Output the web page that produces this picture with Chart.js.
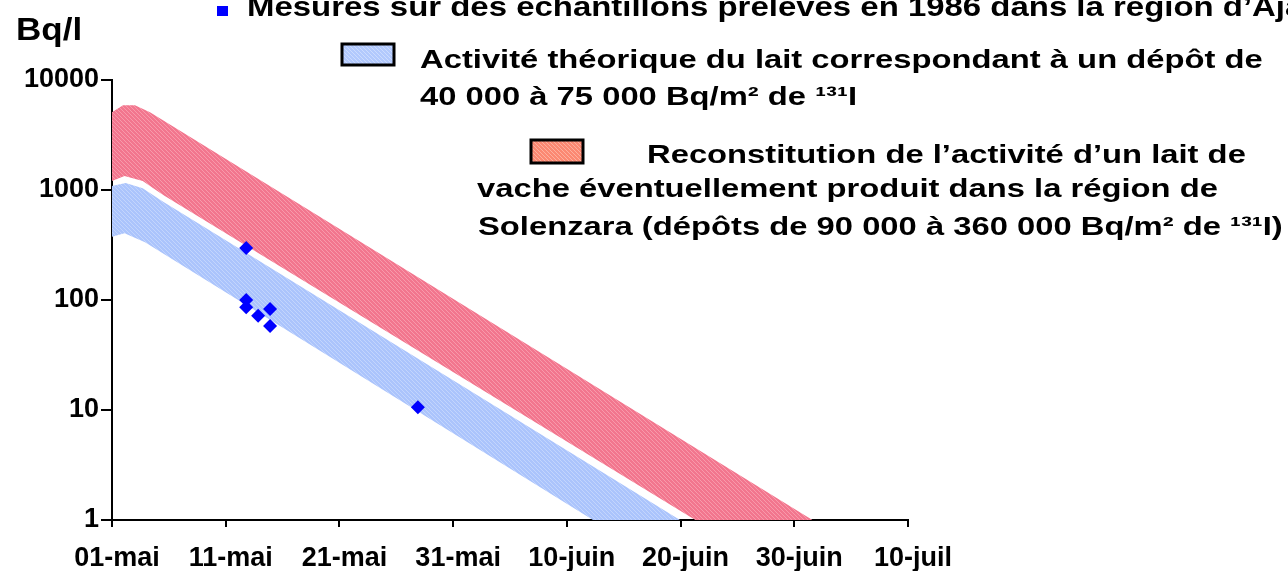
<!DOCTYPE html>
<html><head><meta charset="utf-8">
<script src="https://cdn.jsdelivr.net/npm/chart.js@4.4.1/dist/chart.umd.min.js"></script>
<style>html,body{margin:0;padding:0;background:#fff}#wrap{width:1288px;height:571px;position:relative}</style>
</head><body><div id="wrap"><canvas id="c" width="1288" height="571"></canvas></div>
<script>
// ---- data (days counted from 01-mai 1986) ----
const xTickLabels = ['01-mai','11-mai','21-mai','31-mai','10-juin','20-juin','30-juin','10-juil'];
const xTickDays = [0,10,20,30,40,50,60,70];
const yTickValues = [1,10,100,1000,10000];

const redUpperDays = [0, 0.97, 2.02, 3.34, 61.6];
const redUpperValues = [5100, 5900, 5900, 5100, 1];
const redLowerDays = [0, 1.1, 2.7, 4.5, 51.3, 61.6];
const redLowerValues = [1210, 1340, 1210, 900, 1, 1];

const blueUpperDays = [0, 1.2, 2.7, 4.5, 49.95];
const blueUpperValues = [1090, 1160, 1040, 780, 1];
const blueLowerDays = [0, 1.1, 2.9, 42.3, 49.95];
const blueLowerValues = [375, 405, 335, 1, 1];

const sampleDays = [11.8, 11.8, 11.8, 12.85, 13.9, 13.9, 26.9];
const sampleValues = [297, 100, 86, 72, 83, 58, 10.6];

const topLegendText = 'Mesures sur des échantillons prélevés en 1986 dans la région d’Ajaccio';
const blueLegendLines = ['Activité théorique du lait correspondant à un dépôt de', '40 000 à 75 000 Bq/m² de ¹³¹I'];
const redLegendLines = ['Reconstitution de l’activité d’un lait de', 'vache éventuellement produit dans la région de', 'Solenzara (dépôts de 90 000 à 360 000 Bq/m² de ¹³¹I)'];
const yUnit = 'Bq/l';

// ---- helpers ----
const pts = (xs, ys) => xs.map((x, i) => ({x, y: ys[i]}));
function hatch(base, stripe) {
  const c = document.createElement('canvas'); c.width = 4; c.height = 4;
  const g = c.getContext('2d');
  g.fillStyle = base; g.fillRect(0,0,4,4);
  g.fillStyle = stripe;
  for (let i = 0; i < 4; i++) g.fillRect(i, i, 1, 1);
  return document.getElementById('c').getContext('2d').createPattern(c, 'repeat');
}
const bluePat = hatch('#abc4fc', '#c3d5fd');
const redPat = hatch('#f2768e', '#f89aab');
const blueBoxPat = hatch('#b2c9fd', '#cddcfe');
const salmonPat = hatch('#fb8872', '#fdb09f');
const FONT = '"Liberation Sans", Arial, sans-serif';

function sText(ctx, text, x, y, size, sx) {
  ctx.save();
  ctx.font = 'bold ' + size + 'px ' + FONT;
  ctx.fillStyle = '#000';
  ctx.textBaseline = 'alphabetic';
  ctx.textAlign = 'left';
  ctx.translate(x, y); ctx.scale(sx, 1);
  ctx.fillText(text, 0, 0);
  ctx.restore();
}

const annotations = {
  id: 'annotations',
  afterDraw(chart) {
    const ctx = chart.ctx;
    // top (clipped) legend line
    ctx.fillStyle = '#0000ff';
    ctx.fillRect(217, 6, 11, 10);
    sText(ctx, topLegendText, 247, 16, 27, 1.22);
    // unit
    sText(ctx, yUnit, 16, 40, 31, 1.13);
    // legend boxes
    ctx.save();
    ctx.fillStyle = blueBoxPat; ctx.fillRect(342, 44, 52, 21);
    ctx.lineWidth = 3; ctx.strokeStyle = '#000'; ctx.strokeRect(342, 44, 52, 21);
    ctx.fillStyle = salmonPat; ctx.fillRect(531, 140, 52, 23);
    ctx.strokeRect(531, 140, 52, 23);
    ctx.restore();
    sText(ctx, blueLegendLines[0], 420, 68, 26, 1.26);
    sText(ctx, blueLegendLines[1], 420, 105, 26, 1.26);
    sText(ctx, redLegendLines[0], 647, 163, 26, 1.26);
    sText(ctx, redLegendLines[1], 477, 197, 26, 1.26);
    sText(ctx, redLegendLines[2], 478, 235, 26, 1.26);
  }
};

const tickFont = {family: FONT, size: 27, weight: 'bold'};

new Chart(document.getElementById('c'), {
  type: 'line',
  data: {
    datasets: [
      {data: pts(redUpperDays, redUpperValues), borderWidth: 0, pointRadius: 0, fill: false, order: 1, backgroundColor: redPat},
      {data: pts(redLowerDays, redLowerValues), borderWidth: 0, pointRadius: 0, fill: '-1', order: 1, backgroundColor: redPat},
      {data: pts(blueUpperDays, blueUpperValues), borderWidth: 0, pointRadius: 0, fill: false, order: 1, backgroundColor: bluePat},
      {data: pts(blueLowerDays, blueLowerValues), borderWidth: 0, pointRadius: 0, fill: '-1', order: 1, backgroundColor: bluePat},
      {data: pts(sampleDays, sampleValues), showLine: false, pointStyle: 'rectRot', pointRadius: 7, pointBackgroundColor: '#0000ff', pointBorderColor: '#0000ff', pointBorderWidth: 0, order: 0}
    ]
  },
  options: {
    responsive: false,
    animation: false,
    events: [],
    layout: {padding: {top: 80, right: 380, left: 0, bottom: 0}},
    plugins: {legend: {display: false}, tooltip: {enabled: false}},
    scales: {
      x: {
        type: 'linear', min: 0, max: 70,
        afterBuildTicks: s => { s.ticks = xTickDays.map(v => ({value: v})); },
        afterFit: s => { s.height = 51; },
        ticks: {callback: (v, i) => xTickLabels[i], color: '#000', font: tickFont, padding: 15, maxRotation: 0, autoSkip: false, labelOffset: 5},
        grid: {drawOnChartArea: false, drawTicks: true, tickLength: 7, color: '#000', lineWidth: 2},
        border: {color: '#000', width: 2}
      },
      y: {
        type: 'logarithmic', min: 1, max: 10000,
        afterBuildTicks: s => { s.ticks = yTickValues.map(v => ({value: v})); },
        afterFit: s => { s.width = 112; },
        ticks: {callback: v => String(v), color: '#000', font: tickFont, padding: 2, autoSkip: false},
        grid: {drawOnChartArea: false, drawTicks: true, tickLength: 11, color: '#000', lineWidth: 2},
        border: {color: '#000', width: 2}
      }
    }
  },
  plugins: [annotations]
});
</script></body></html>
